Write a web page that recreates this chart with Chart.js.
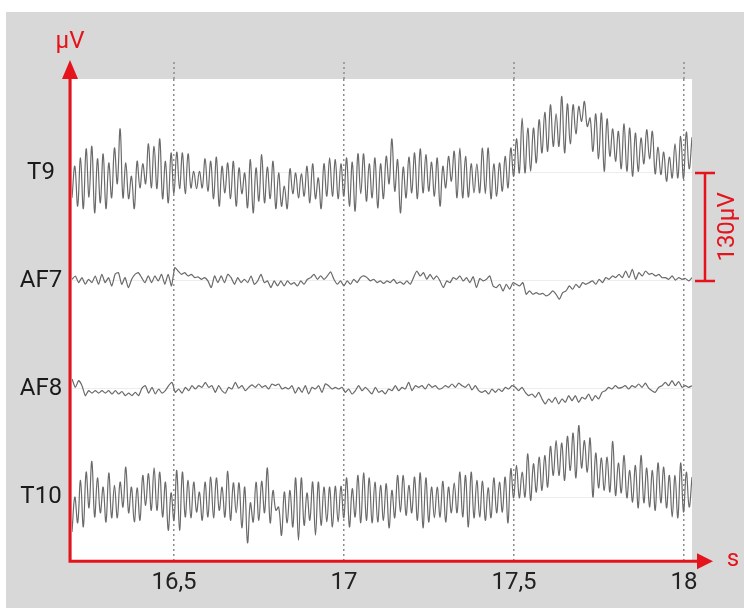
<!DOCTYPE html>
<html>
<head>
<meta charset="utf-8">
<script src="https://cdn.jsdelivr.net/npm/chart.js@4.4.1/dist/chart.umd.min.js"></script>
<style>
  html, body { margin: 0; padding: 0; background: #fff; }
  #wrap { position: relative; width: 744px; height: 608px; }
</style>
</head>
<body>
<div id="wrap"><canvas id="eegChart"></canvas></div>
<script>
// channel names, top to bottom
var channels = ['T9', 'AF7', 'AF8', 'T10'];
// baseline of each channel in µV (one scale bar = 130 µV apart)
var offsets = [390, 260, 130, 0];
var scaleBar = 130;
var tStart = 16.2;
var tEnd = 18.0235;
var xTicks = [16.5, 17, 17.5, 18];

// samples in µV relative to the channel baseline
var t9 = [-30, 8, -40, 18, -43, 29, -29, 32, -48, 17, -36, 23, -43, 12, -30, 30, -13, 53, -30, 12,
  -31, -4, -43, 14, -18, 11, -13, 35, -18, 32, -19, 41, -31, 14, -36, 24, -25, 25, -19, 24,
  -25, 23, -18, 2, -19, 2, -18, 17, -22, 14, -31, 19, -40, 8, -24, 12, -31, 14, -40, 6,
  -25, 0, -42, 16, -48, 6, -34, 22, -36, 7, -31, 14, -43, 0, -40, -16, -43, 5, -25, 0,
  -30, -1, -28, 8, -36, 11, -31, -6, -43, 11, -28, 18, -28, 16, -31, 11, -28, 18, -40, 13,
  -46, 23, -25, 23, -34, 11, -30, 18, -42, 11, -31, 20, -13, 41, -22, 16, -48, 7, -30, 19,
  -24, 24, -31, 29, -24, 22, -22, 13, -28, 18, -40, 8, -18, 20, -10, 26, -30, 30, -30, 20,
  -29, 11, -24, 11, -24, 30, -25, 30, -31, 11, -28, 12, -22, 20, -18, 30, -4, 41, 0, 66,
  0, 54, 2, 54, 12, 64, 24, 73, 26, 82, 32, 71, 32, 92, 24, 83, 35, 82, 47, 80,
  62, 86, 56, 66, 26, 71, 17, 72, 2, 65, 20, 53, 14, 50, 5, 59, 2, 54, -4, 48,
  2, 42, 11, 52, 17, 50, -1, 31, -2, 25, -10, 19, -6, 35, -6, 44, -7, 49, 5, 43];

var af7 = [2, 6, -2, 4, -4, 2, -2, 6, -4, 8, -2, 4, -6, 8, 10, -4, 4, -8, 2, 8,
  10, 4, -2, 6, -2, 6, 0, 8, -4, 8, -6, 16, 12, 8, 10, 6, 8, 4, 5, 2,
  4, 0, -8, 6, -2, 6, -2, 8, 4, -4, 4, -2, 2, -2, 6, -4, 0, 8, -2, 0,
  -8, 0, -6, 0, -6, 0, -4, -2, -6, 0, -4, 2, 4, 8, 2, 6, 2, 6, 11, 2,
  -4, 0, -6, 0, -4, 2, -2, 4, 6, 4, 0, 2, -2, 0,
  -3, 0, -2, 2, -3, -1, -4, 0, -4, 4, 12, 6, 10, 2, 8, 2, 6, 0, -8, 0,
  -2, 4, 2, 6, 0, 4, -2, 5, -8, 3, 0, 2, 6, -6, -8, -4, -12, -4, -10, -2,
  -4, -6, -2, -16, -12, -16, -14, -16, -15, -18, -16, -12, -16, -22, -14, -12, -6, -10, -4, -8,
  -2, -4, -2, 0, -4, 2, -2, 4, 2, 6, 4, 8, 4, 12, 4, 14, 2, 10, 6, 12,
  8, 9, 6, 8, 4, 4, 2, 6, 1, 4, 2, 3, 0, 4];

var af8 = [12, 2, 10, 4, -8, -2, -5, -2, -5, -2, -5, -2, -6, -2, -6, -3, -8, -5, -8, -4,
  -8, 1, 4, -5, 2, -6, 0, -5, -2, 4, 8, -4, 0, -5, 2, -2, 4, 0, 4, 2,
  8, 2, 4, -4, 4, -2, -5, 2, 0, 8, 1, 4, -2, 2, 5, 2, 6, 2, 4, 0,
  6, 4, 6, 0, 2, 0, 4, -5, 2, -4, 4, -6, 2, 0, 4, -4, 6, 4, 0, 2,
  0, 2, -4, 0, -6, -2, 4, -2, 2, -2, -6, 2, -4,
  -2, -6, 0, -2, 4, -2, 2, 0, 8, -2, 4, 2, 4, 0, 6, 2, 4, 0, 1, 4,
  2, 6, 2, 7, 4, 2, 6, -1, 4, -2, -4, -2, -6, 0, -4, 0, -3, 2, 0, 4,
  2, -2, 2, -4, -8, -6, -10, -4, -12, -18, -12, -16, -10, -18, -12, -16, -8, -14, -8, -16,
  -10, -12, -6, -14, -8, -12, -4, -2, 2, 0, 4, 1, 2, 4, 0, 4, 2, 6, 2, 7,
  1, -2, -4, 2, 4, 8, 4, 10, 4, 9, 2, 4, 2, 4];

var t10 = [-42, 0, -31, 20, -36, 30, -13, 43, -24, 23, -19, 12, -30, 29, -25, 14, -25, 18, -12, 36,
  -19, 12, -30, 11, -28, 26, -10, 28, -16, 35, -16, 30, -24, 18, -40, 5, -28, 32, -40, 30,
  -24, 20, -25, 18, -18, 6, -28, 18, -24, 24, -25, 23, -16, 12, -24, 31, -28, 17, -19, 17,
  -37, 12, -55, -7, -30, 18, -28, 19, -19, 35, -31, 8, -16, -12, -46, 6, -31, 8, -36, 23,
  -52, 23, -34, 5, -28, 18, -46, 18, -34, 12, -30, 12, -36, 13, -30, 13, -25, 23, -36, 10,
  -24, 26, -31, 29, -28, 23, -31, 18, -30, 14, -28, 16, -37, 8, -25, 26, -18, 26, -22, 14,
  -19, 24, -28, 29, -37, 23, -30, 12, -25, 12, -24, 19, -30, 12, -19, 17, -19, 30, -24, 26,
  -36, 30, -25, 20, -24, 19, -28, 11, -25, 23, -19, 18, -18, 24, -31, 34, -1, 38, -1, 30,
  0, 52, -4, 40, 6, 48, 8, 50, 12, 61, 26, 68, 26, 65, 20, 73, 32, 77, 23, 86,
  35, 68, 30, 71, 0, 53, 11, 47, 8, 48, 6, 67, 2, 41, 5, 50, -1, 32, -6, 38,
  -13, 50, -7, 35, -12, 32, -16, 41, -7, 36, -13, 26, -24, 26, -25, 41, -18, 30, -12, 24];

var signals = [t9, af7, af8, t10];

var RED = '#e5131b';
var FONT = 'Roboto, "Liberation Sans", Arial, sans-serif';

// samples are evenly spaced over the visible time window
function toPoints(values, offset) {
    var step = (tEnd - tStart) / (values.length - 1);
    return values.map(function (v, i) {
        return { x: tStart + i * step, y: v + offset };
    });
}

var decor = {
    id: 'decor',
    beforeDraw: function (chart) {
        var ctx = chart.ctx, a = chart.chartArea;
        ctx.save();
        ctx.fillStyle = '#ffffff';
        ctx.fillRect(0, 0, chart.width, chart.height);
        ctx.fillStyle = '#d8d8d8';
        ctx.fillRect(6, 12, chart.width - 6, chart.height - 12);
        ctx.fillStyle = '#ffffff';
        ctx.fillRect(a.left, a.top, a.right - a.left, a.bottom - a.top);
        ctx.restore();
    },
    afterDraw: function (chart) {
        var ctx = chart.ctx, a = chart.chartArea;
        var xs = chart.scales.x, ys = chart.scales.y;
        ctx.save();

        // dotted grid lines continue above the plot area
        ctx.strokeStyle = '#8c8c8c';
        ctx.lineWidth = 1.5;
        ctx.setLineDash([2, 3]);
        xTicks.forEach(function (t) {
            var px = Math.round(xs.getPixelForValue(t));
            ctx.beginPath();
            ctx.moveTo(px, a.top - 17);
            ctx.lineTo(px, a.top);
            ctx.stroke();
        });
        ctx.setLineDash([]);

        // red axes with arrows
        var ax = a.left - 2, ay = a.bottom + 1;
        ctx.strokeStyle = RED;
        ctx.fillStyle = RED;
        ctx.lineWidth = 3;
        ctx.beginPath();
        ctx.moveTo(ax, ay);
        ctx.lineTo(ax, a.top - 2);
        ctx.moveTo(ax - 1.5, ay);
        ctx.lineTo(a.right + 8, ay);
        ctx.stroke();
        ctx.beginPath();
        ctx.moveTo(ax, a.top - 19);
        ctx.lineTo(ax - 8, a.top);
        ctx.lineTo(ax + 8, a.top);
        ctx.closePath();
        ctx.fill();
        ctx.beginPath();
        ctx.moveTo(a.right + 21, ay);
        ctx.lineTo(a.right + 5, ay - 8);
        ctx.lineTo(a.right + 5, ay + 8);
        ctx.closePath();
        ctx.fill();

        ctx.font = '24px ' + FONT;
        ctx.textAlign = 'center';
        ctx.textBaseline = 'middle';
        ctx.fillText('µV', ax, 42);
        ctx.fillText('s', a.right + 41, ay - 1);

        // scale bar
        var sTop = ys.getPixelForValue(offsets[0]);
        var sBot = ys.getPixelForValue(offsets[0] - scaleBar);
        var sx = a.right + 13;
        ctx.lineWidth = 2.5;
        ctx.beginPath();
        ctx.moveTo(sx, sTop);
        ctx.lineTo(sx, sBot);
        ctx.moveTo(sx - 10, sTop);
        ctx.lineTo(sx + 10, sTop);
        ctx.moveTo(sx - 10, sBot);
        ctx.lineTo(sx + 10, sBot);
        ctx.stroke();
        ctx.save();
        ctx.translate(sx + 23, (sTop + sBot) / 2);
        ctx.rotate(-Math.PI / 2);
        ctx.fillText(scaleBar + 'µV', 0, 0);
        ctx.restore();

        // channel names
        ctx.fillStyle = '#1a1a1a';
        channels.forEach(function (name, i) {
            ctx.fillText(name, 41, ys.getPixelForValue(offsets[i]));
        });
        ctx.restore();
    }
};

var ctx = document.getElementById('eegChart').getContext('2d');
var eegChart = new Chart(ctx, {
    type: 'line',
    data: {
        datasets: channels.map(function (name, i) {
            return {
                label: name,
                data: toPoints(signals[i], offsets[i]),
                borderColor: '#6a6a6a',
                borderWidth: 1.2,
                pointRadius: 0,
                tension: i === 0 || i === 3 ? 0.4 : 0.2,
                fill: false
            };
        })
    },
    options: {
        responsive: true,
        maintainAspectRatio: false,
        animation: false,
        events: [],
        layout: { padding: { left: 72, right: 52, top: 79, bottom: 3 } },
        plugins: { legend: { display: false }, tooltip: { enabled: false } },
        scales: {
            x: {
                type: 'linear',
                min: tStart,
                max: tEnd,
                afterBuildTicks: function (s) {
                    s.ticks = xTicks.map(function (v) { return { value: v }; });
                },
                border: { display: false, dash: [2, 3] },
                grid: { color: '#8c8c8c', lineWidth: 1.5, drawTicks: false },
                ticks: {
                    autoSkip: false,
                    maxRotation: 0,
                    padding: 8,
                    color: '#222',
                    font: { family: FONT, size: 24 },
                    callback: function (v) { return String(v).replace('.', ','); }
                }
            },
            y: {
                min: -76,
                max: 503,
                afterBuildTicks: function (s) {
                    s.ticks = offsets.map(function (v) { return { value: v }; });
                },
                border: { display: false },
                grid: { color: '#ededed', lineWidth: 1, drawTicks: false },
                ticks: { display: false }
            }
        }
    },
    plugins: [decor]
});
</script>
</body>
</html>
